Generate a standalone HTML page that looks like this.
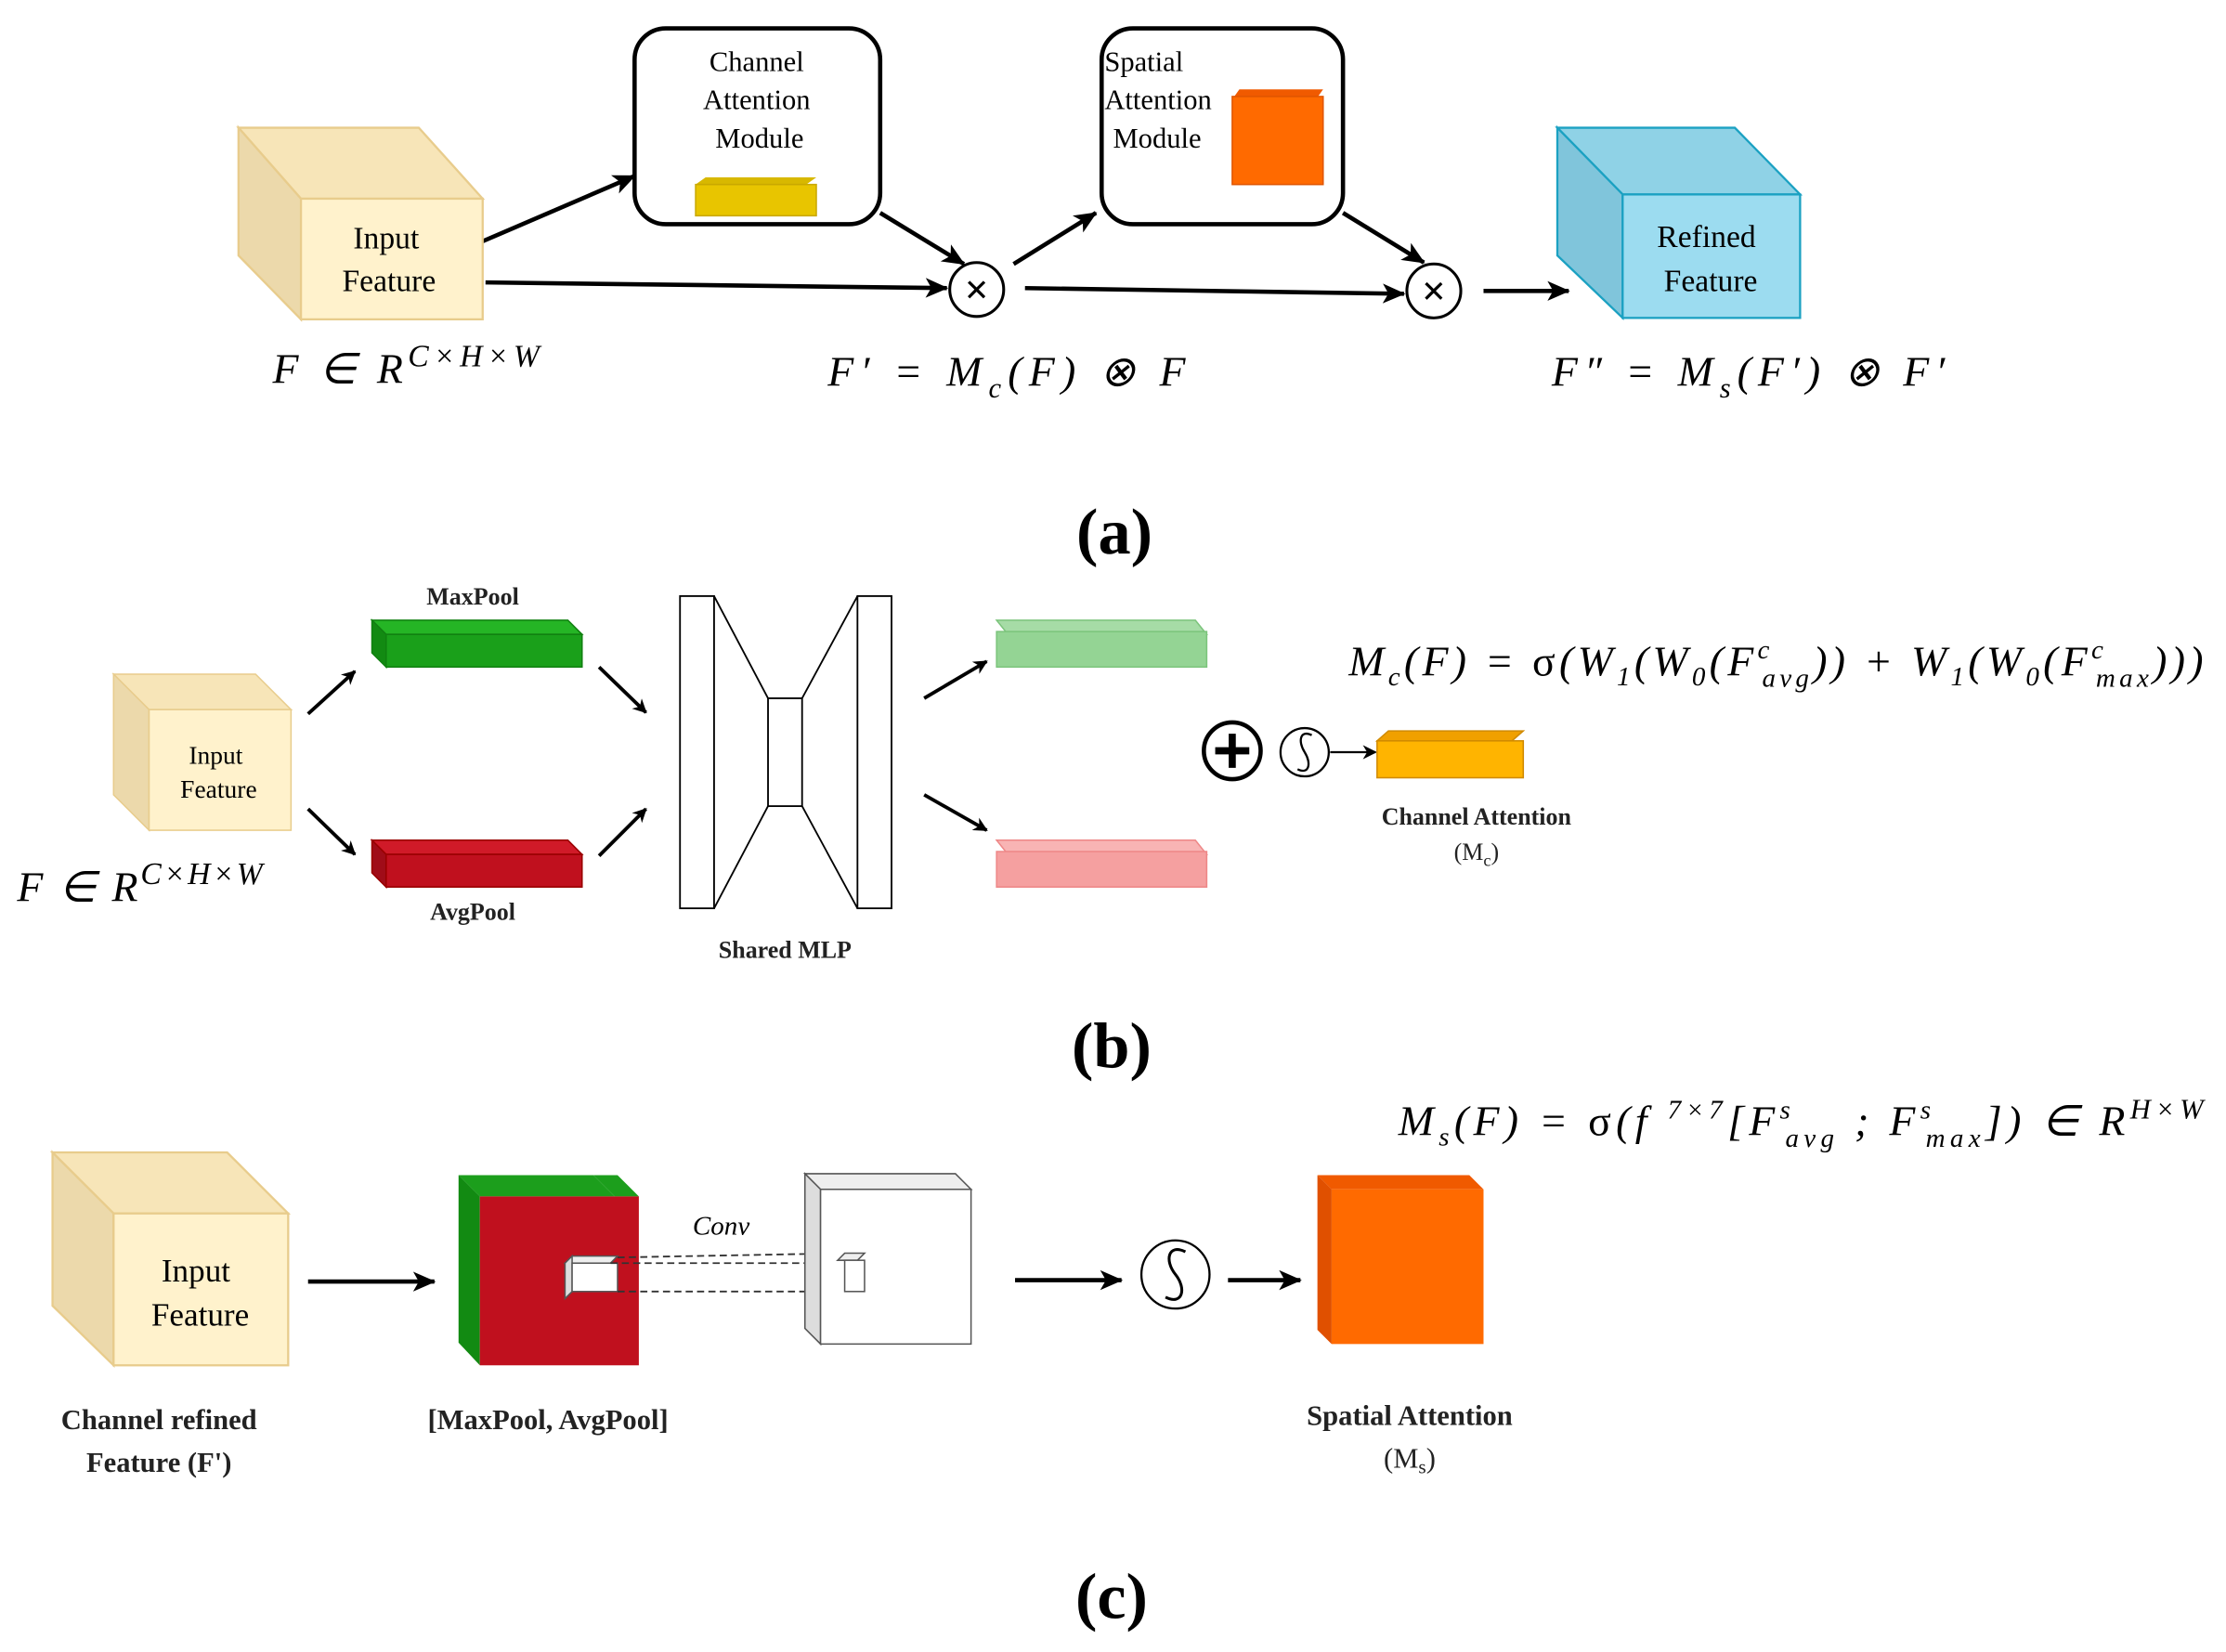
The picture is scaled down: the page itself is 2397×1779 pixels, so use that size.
<!DOCTYPE html>
<html><head><meta charset="utf-8"><style>
html,body{margin:0;padding:0;background:#fff;}
svg{display:block;}
text{font-family:"Liberation Serif",serif;}
.m{font-style:italic;font-size:30px;}
</style></head><body>
<svg width="2397" height="1779" viewBox="0 0 1568 1164" preserveAspectRatio="none" xmlns="http://www.w3.org/2000/svg">
<defs>
<marker id="ah" markerWidth="10" markerHeight="10" refX="9" refY="5" orient="auto" markerUnits="userSpaceOnUse" viewBox="0 0 10 10"><path d="M0,0 L10,5 L0,10 L3,5z" fill="#000"/></marker>
<marker id="ah2" markerWidth="16" markerHeight="16" refX="15" refY="8" orient="auto" markerUnits="userSpaceOnUse" viewBox="0 0 16 16"><path d="M0,1 L16,8 L0,15 L4,8z" fill="#000"/></marker>
</defs>
<g stroke="#000" stroke-width="3" fill="none">
<line x1="340" y1="170" x2="447" y2="124" marker-end="url(#ah2)"/>
<line x1="342" y1="199" x2="667" y2="203" marker-end="url(#ah2)"/>
<line x1="620" y1="150" x2="679" y2="186" marker-end="url(#ah2)"/>
<line x1="714" y1="186" x2="772" y2="150" marker-end="url(#ah2)"/>
<line x1="722" y1="203" x2="989" y2="207" marker-end="url(#ah2)"/>
<line x1="946" y1="150" x2="1003" y2="185" marker-end="url(#ah2)"/>
<line x1="1045" y1="205" x2="1105" y2="205" marker-end="url(#ah2)"/>
</g>
<polygon points="168,90 295,90 340,140 212,140" fill="#f7e5b8" stroke="#e8cc8c" stroke-width="1.5"/>
<polygon points="168,90 212,140 212,225 168,180" fill="#ecd9ab" stroke="#e8cc8c" stroke-width="1.5"/>
<rect x="212" y="140" width="128" height="85" fill="#fff2cc" stroke="#e8cc8c" stroke-width="1.5"/>
<text x="272" y="175" font-size="22" text-anchor="middle">Input</text>
<text x="274" y="205" font-size="22" text-anchor="middle">Feature</text>
<rect x="447" y="20" width="173" height="138" rx="22" fill="#fff" stroke="#000" stroke-width="3"/>
<text x="533" y="50" font-size="20" text-anchor="middle">Channel</text>
<text x="533" y="77" font-size="20" text-anchor="middle">Attention</text>
<text x="535" y="104" font-size="20" text-anchor="middle">Module</text>
<polygon points="490,130 568,130 575,125 497,125" fill="#d8b800"/>
<rect x="490" y="130" width="85" height="22" fill="#e8c500" stroke="#c9a800"/>
<rect x="776" y="20" width="170" height="138" rx="22" fill="#fff" stroke="#000" stroke-width="3"/>
<text x="778" y="50" font-size="20">Spatial</text>
<text x="778" y="77" font-size="20">Attention</text>
<text x="784" y="104" font-size="20">Module</text>
<polygon points="868,70 927,70 932,63 873,63" fill="#f05a00"/>
<rect x="868" y="68" width="64" height="62" fill="#ff6a00" stroke="#e05500"/>
<g stroke="#000" stroke-width="2" fill="#fff"><circle cx="688" cy="204" r="19"/><circle cx="1010" cy="205" r="19"/></g>
<text x="688" y="214" font-size="30" font-weight="bold" text-anchor="middle" font-family="Liberation Sans">×</text>
<text x="1010" y="215" font-size="30" font-weight="bold" text-anchor="middle" font-family="Liberation Sans">×</text>
<polygon points="1097,90 1222,90 1268,137 1143,137" fill="#8fd2e6" stroke="#1ba1c2" stroke-width="1.5"/>
<polygon points="1097,90 1143,137 1143,224 1097,180" fill="#80c5db" stroke="#1ba1c2" stroke-width="1.5"/>
<rect x="1143" y="137" width="125" height="87" fill="#9cdcf0" stroke="#1ba1c2" stroke-width="1.5"/>
<text x="1202" y="174" font-size="22" text-anchor="middle">Refined</text>
<text x="1205" y="205" font-size="22" text-anchor="middle">Feature</text>
<text class="m" x="192" y="270" textLength="188" lengthAdjust="spacing">F ∈ R<tspan font-size="22" dy="-12">C×H×W</tspan></text>
<text class="m" x="583" y="272" textLength="252" lengthAdjust="spacing">F′ = M<tspan font-size="20" dy="8">c</tspan><tspan dy="-8">(F) ⊗ F</tspan></text>
<text class="m" x="1093" y="272" textLength="277" lengthAdjust="spacing">F″ = M<tspan font-size="20" dy="8">s</tspan><tspan dy="-8">(F′) ⊗ F′</tspan></text>
<text x="785" y="390" font-size="46" font-weight="bold" text-anchor="middle">(a)</text>

<polygon points="80,475 180,475 205,500 105,500" fill="#f7e5b8" stroke="#e8cc8c"/>
<polygon points="80,475 105,500 105,585 80,560" fill="#ecd9ab" stroke="#e8cc8c"/>
<rect x="105" y="500" width="100" height="85" fill="#fff2cc" stroke="#e8cc8c"/>
<text x="152" y="538" font-size="18" text-anchor="middle">Input</text>
<text x="154" y="562" font-size="18" text-anchor="middle">Feature</text>
<g stroke="#000" stroke-width="2.5">
<line x1="217" y1="503" x2="250" y2="473" marker-end="url(#ah)"/>
<line x1="217" y1="570" x2="250" y2="602" marker-end="url(#ah)"/>
<line x1="422" y1="470" x2="455" y2="502" marker-end="url(#ah)"/>
<line x1="422" y1="603" x2="455" y2="570" marker-end="url(#ah)"/>
<line x1="651" y1="492" x2="695" y2="466" marker-end="url(#ah)"/>
<line x1="651" y1="560" x2="695" y2="585" marker-end="url(#ah)"/>
</g>
<polygon points="262,437 400,437 410,447 272,447" fill="#25b525" stroke="#118011"/>
<polygon points="262,437 272,447 272,470 262,460" fill="#128a12" stroke="#118011"/>
<rect x="272" y="447" width="138" height="23" fill="#1aa01a" stroke="#118011"/>
<polygon points="262,592 400,592 410,602 272,602" fill="#d01a28" stroke="#900"/>
<polygon points="262,592 272,602 272,625 262,615" fill="#a00c18" stroke="#900"/>
<rect x="272" y="602" width="138" height="23" fill="#c0101e" stroke="#900"/>
<text x="333" y="426" font-size="17" text-anchor="middle" font-weight="bold" fill="#222">MaxPool</text>
<text x="333" y="648" font-size="17" text-anchor="middle" font-weight="bold" fill="#222">AvgPool</text>
<g stroke="#000" stroke-width="1.2" fill="#fff">
<rect x="479" y="420" width="24" height="220"/><rect x="604" y="420" width="24" height="220"/><rect x="541" y="492" width="24" height="76"/>
<line x1="503" y1="420" x2="541" y2="492"/><line x1="503" y1="640" x2="541" y2="568"/>
<line x1="604" y1="420" x2="565" y2="492"/><line x1="604" y1="640" x2="565" y2="568"/>
</g>
<text x="553" y="675" font-size="17" text-anchor="middle" font-weight="bold" fill="#222">Shared MLP</text>
<polygon points="702,437 842,437 850,447 710,447" fill="#a6dca6" stroke="#7cc47c"/>
<rect x="702" y="445" width="148" height="25" fill="#94d494" stroke="#7cc47c"/>
<polygon points="702,592 842,592 850,602 710,602" fill="#f8b4b4" stroke="#e88"/>
<rect x="702" y="600" width="148" height="25" fill="#f5a0a0" stroke="#e88"/>
<circle cx="868" cy="529" r="20" fill="#fff" stroke="#000" stroke-width="3"/>
<path d="M856,529 H880 M868,517 V541" stroke="#000" stroke-width="5"/>
<circle cx="919" cy="530" r="17" fill="#fff" stroke="#000" stroke-width="1.5"/>
<path d="M924,518 C916,514 914,522 919,530 C924,538 922,546 914,542" stroke="#000" stroke-width="1.5" fill="none"/>
<line x1="937" y1="530" x2="969" y2="530" stroke="#000" stroke-width="1.5" marker-end="url(#ah)"/>
<polygon points="970,522 1065,522 1073,515 978,515" fill="#f0a000" stroke="#d08a00"/>
<rect x="970" y="522" width="103" height="26" fill="#ffb400" stroke="#d08a00"/>
<text x="1040" y="581" font-size="17" text-anchor="middle" font-weight="bold" fill="#222">Channel Attention</text>
<text x="1040" y="606" font-size="17" text-anchor="middle" fill="#222">(M<tspan font-size="12" dy="4">c</tspan><tspan dy="-4">)</tspan></text>
<text class="m" x="950" y="476" font-size="29" textLength="602" lengthAdjust="spacing">M<tspan font-size="19" dy="7">c</tspan><tspan dy="-7">(F) = </tspan><tspan font-style="normal">σ</tspan>(W<tspan font-size="19" dy="7">1</tspan><tspan dy="-7">(W</tspan><tspan font-size="19" dy="7">0</tspan><tspan dy="-7">(F</tspan><tspan font-size="19" dy="-12">c</tspan><tspan font-size="19" dx="-8" dy="20">avg</tspan><tspan dy="-8">)) + W</tspan><tspan font-size="19" dy="7">1</tspan><tspan dy="-7">(W</tspan><tspan font-size="19" dy="7">0</tspan><tspan dy="-7">(F</tspan><tspan font-size="19" dy="-12">c</tspan><tspan font-size="19" dx="-8" dy="20">max</tspan><tspan dy="-8">)))</tspan></text>
<text class="m" x="12" y="635" textLength="173" lengthAdjust="spacing">F ∈ R<tspan font-size="22" dy="-12">C×H×W</tspan></text>
<text x="783" y="752" font-size="46" font-weight="bold" text-anchor="middle">(b)</text>

<polygon points="37,812 160,812 203,855 80,855" fill="#f7e5b8" stroke="#e8cc8c" stroke-width="1.5"/>
<polygon points="37,812 80,855 80,962 37,920" fill="#ecd9ab" stroke="#e8cc8c" stroke-width="1.5"/>
<rect x="80" y="855" width="123" height="107" fill="#fff2cc" stroke="#e8cc8c" stroke-width="1.5"/>
<text x="138" y="903" font-size="23" text-anchor="middle">Input</text>
<text x="141" y="934" font-size="23" text-anchor="middle">Feature</text>
<line x1="217" y1="903" x2="306" y2="903" stroke="#000" stroke-width="3" marker-end="url(#ah2)"/>
<polygon points="323,828 418,828 433,843 338,843" fill="#1c9e1c"/>
<polygon points="323,828 338,843 338,962 323,946" fill="#128a12"/>
<polygon points="418,828 433,843 450,843 435,828" fill="#1c9e1c"/>
<rect x="338" y="843" width="112" height="119" fill="#c0101e"/>
<polygon points="398,890 430,890 435,885 403,885" fill="#eee" stroke="#555"/>
<polygon points="398,890 403,885 403,910 398,915" fill="#ddd" stroke="#555"/>
<rect x="403" y="890" width="32" height="20" fill="#fff" stroke="#555"/>
<g stroke="#333" stroke-width="1.2" stroke-dasharray="5,3">
<line x1="435" y1="886" x2="597" y2="883"/><line x1="435" y1="910" x2="597" y2="910"/><line x1="430" y1="890" x2="592" y2="890"/>
</g>
<text x="508" y="870" font-size="19" font-style="italic" text-anchor="middle">Conv</text>
<polygon points="567,827 673,827 684,838 578,838" fill="#eee" stroke="#555"/>
<polygon points="567,827 578,838 578,947 567,936" fill="#ddd" stroke="#555"/>
<rect x="578" y="838" width="106" height="109" fill="#fff" stroke="#555"/>
<polygon points="590,888 604,888 609,883 595,883" fill="#eee" stroke="#555"/>
<rect x="595" y="888" width="14" height="22" fill="#fff" stroke="#555"/>
<line x1="715" y1="902" x2="790" y2="902" stroke="#000" stroke-width="3" marker-end="url(#ah2)"/>
<circle cx="828" cy="898" r="24" fill="#fff" stroke="#000" stroke-width="1.5"/>
<path d="M835,882 C823,876 820,888 828,898 C836,908 833,920 821,914" stroke="#000" stroke-width="2" fill="none"/>
<line x1="865" y1="902" x2="916" y2="902" stroke="#000" stroke-width="3" marker-end="url(#ah2)"/>
<polygon points="928,828 1035,828 1045,838 938,838" fill="#f05a00"/>
<polygon points="928,828 938,838 938,947 928,937" fill="#e05000"/>
<rect x="938" y="838" width="107" height="109" fill="#ff6a00"/>
<text x="112" y="1007" font-size="20" text-anchor="middle" font-weight="bold" fill="#222">Channel refined</text>
<text x="112" y="1037" font-size="20" text-anchor="middle" font-weight="bold" fill="#222">Feature (F')</text>
<text x="386" y="1007" font-size="20" text-anchor="middle" font-weight="bold" fill="#222">[MaxPool, AvgPool]</text>
<text x="993" y="1004" font-size="20" text-anchor="middle" font-weight="bold" fill="#222">Spatial Attention</text>
<text x="993" y="1034" font-size="20" text-anchor="middle" fill="#222">(M<tspan font-size="14" dy="4">s</tspan><tspan dy="-4">)</tspan></text>
<text class="m" x="985" y="800" font-size="29" textLength="567" lengthAdjust="spacing">M<tspan font-size="19" dy="7">s</tspan><tspan dy="-7">(F) = </tspan><tspan font-style="normal">σ</tspan>(f <tspan font-size="19" dy="-12">7×7</tspan><tspan dy="12">[F</tspan><tspan font-size="19" dy="-12">s</tspan><tspan font-size="19" dx="-7" dy="20">avg</tspan><tspan dy="-8"> ; F</tspan><tspan font-size="19" dy="-12">s</tspan><tspan font-size="19" dx="-7" dy="20">max</tspan><tspan dy="-8">]) ∈ R</tspan><tspan font-size="20" dy="-12">H×W</tspan></text>
<text x="783" y="1140" font-size="46" font-weight="bold" text-anchor="middle">(c)</text>
</svg>
</body></html>
